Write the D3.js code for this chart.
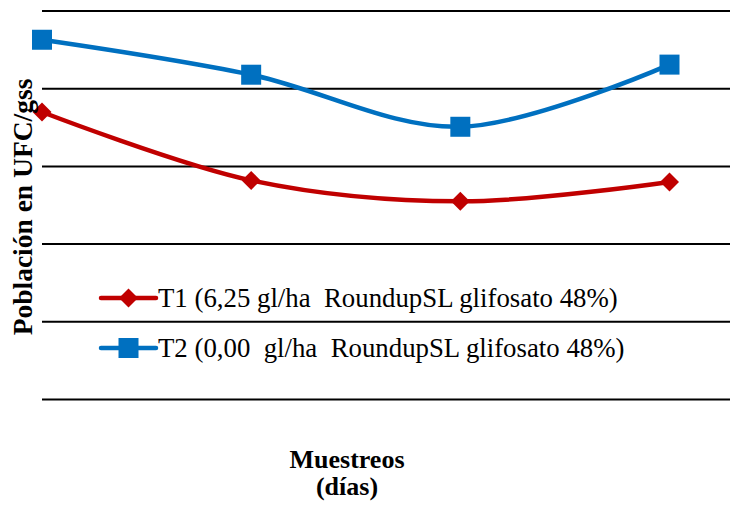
<!DOCTYPE html>
<html>
<head>
<meta charset="utf-8">
<script src="https://cdn.jsdelivr.net/npm/d3@7"></script>
<style>
  html, body { margin: 0; padding: 0; background: #fff; }
  svg { display: block; }
  text { font-family: "Liberation Serif", "Times New Roman", serif; fill: #000; white-space: pre; }
</style>
</head>
<body>
<svg id="chart" width="730" height="505"></svg>
<script>
// Sampling points (x axis categories)
const muestreos = ["1", "2", "3", "4"];
// Population estimates per treatment
const t1Values = [3.70, 2.82, 2.55, 2.80];
const t2Values = [4.63, 4.18, 3.51, 4.31];
// Horizontal gridline levels
const gridTicks = [0, 1, 2, 3, 4, 5];

const seriesNames = [
  "T1 (6,25 gl/ha  RoundupSL glifosato 48%)",
  "T2 (0,00  gl/ha  RoundupSL glifosato 48%)"
];
const seriesColors = ["#C00000", "#0070C0"];

const svg = d3.select("#chart");
const plotLeft = 42, plotRight = 730, plotTop = 11, plotBottom = 399.5;

const x = d3.scalePoint().domain(muestreos).range([42, 669.5]);
const y = d3.scaleLinear().domain([0, 5]).range([plotBottom, plotTop]);

// Gridlines
svg.append("g")
  .selectAll("line")
  .data(gridTicks)
  .join("line")
  .attr("x1", plotLeft).attr("x2", plotRight)
  .attr("y1", d => y(d)).attr("y2", d => y(d))
  .attr("stroke", "#000").attr("stroke-width", 2);

const series = [
  { name: seriesNames[0], values: t1Values, color: seriesColors[0], marker: "diamond" },
  { name: seriesNames[1], values: t2Values, color: seriesColors[1], marker: "square" }
];

const line = d3.line()
  .x((d, i) => x(muestreos[i]))
  .y(d => y(d))
  .curve(d3.curveCardinal.tension(0));

function drawMarker(g, type, cx, cy, color) {
  if (type === "square") {
    g.append("rect")
      .attr("x", cx - 10).attr("y", cy - 10)
      .attr("width", 20).attr("height", 20)
      .attr("fill", color);
  } else {
    const r = 9.5;
    g.append("path")
      .attr("d", `M${cx},${cy - r}L${cx + r},${cy}L${cx},${cy + r}L${cx - r},${cy}Z`)
      .attr("fill", color);
  }
}

series.forEach(s => {
  svg.append("path")
    .datum(s.values)
    .attr("d", line)
    .attr("fill", "none")
    .attr("stroke", s.color)
    .attr("stroke-width", 4.5)
    .attr("stroke-linejoin", "round");
  const mg = svg.append("g");
  s.values.forEach((v, i) => drawMarker(mg, s.marker, x(muestreos[i]), y(v), s.color));
});

// Legend
const legend = svg.append("g");
const legendY = [298, 348];
series.forEach((s, i) => {
  const ly = legendY[i];
  legend.append("line")
    .attr("x1", 101).attr("x2", 156)
    .attr("y1", ly).attr("y2", ly)
    .attr("stroke", s.color).attr("stroke-width", 4.5)
    .attr("stroke-linecap", "round");
  drawMarker(legend, s.marker, 128.5, ly, s.color);
  legend.append("text")
    .attr("x", 158).attr("y", ly + 9)
    .attr("font-size", 26.8)
    .text(s.name);
});

// Axis titles
svg.append("text")
  .attr("transform", "translate(32,207) rotate(-90)")
  .attr("text-anchor", "middle")
  .attr("font-size", 27.5)
  .attr("font-weight", "bold")
  .text("Población en UFC/gss");

svg.append("text")
  .attr("x", 347).attr("y", 468)
  .attr("text-anchor", "middle")
  .attr("font-size", 26)
  .attr("font-weight", "bold")
  .text("Muestreos");

svg.append("text")
  .attr("x", 347).attr("y", 495)
  .attr("text-anchor", "middle")
  .attr("font-size", 26)
  .attr("font-weight", "bold")
  .text("(días)");
</script>
</body>
</html>
